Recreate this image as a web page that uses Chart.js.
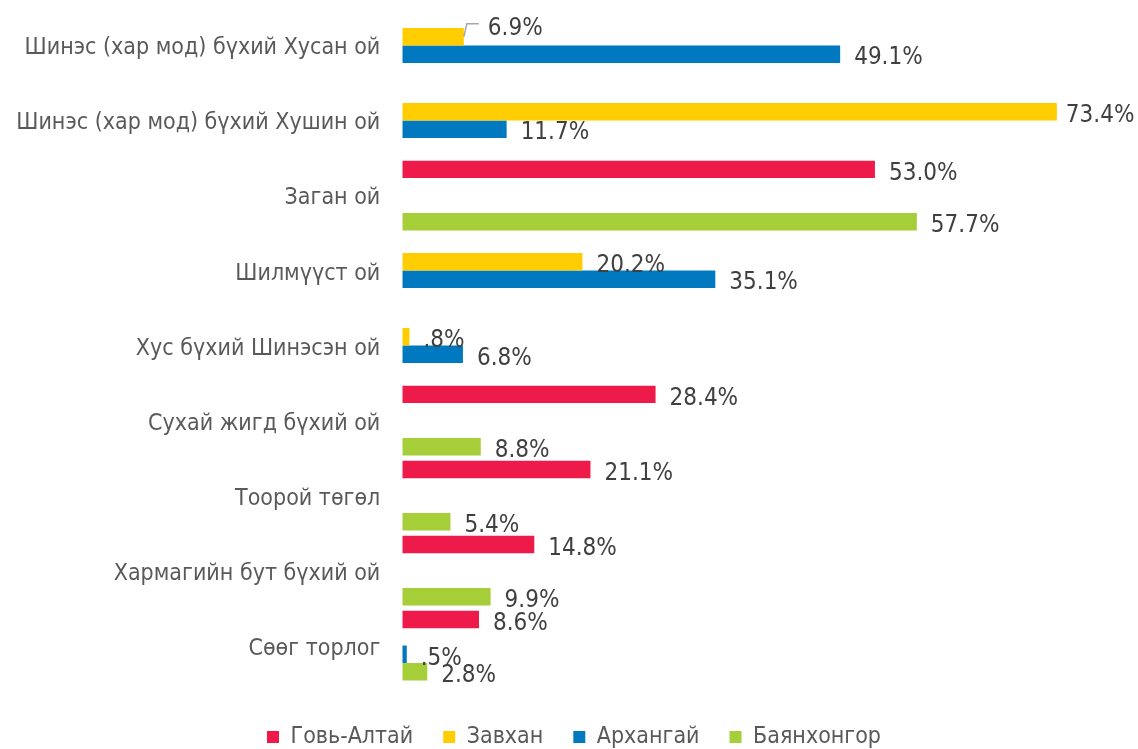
<!DOCTYPE html>
<html>
<head>
<meta charset="utf-8">
<script src="https://cdn.jsdelivr.net/npm/chart.js@4/dist/chart.umd.min.js"></script>
<style>
  html, body { margin: 0; padding: 0; background: #fff; }
  #wrap { width: 1138px; height: 749px; }
</style>
</head>
<body>
<div id="wrap"><canvas id="chart"></canvas></div>
<script>
const categories = [
  "Шинэс (хар мод) бүхий Хусан ой",
  "Шинэс (хар мод) бүхий Хушин ой",
  "Заган ой",
  "Шилмүүст ой",
  "Хус бүхий Шинэсэн ой",
  "Сухай жигд бүхий ой",
  "Тоорой төгөл",
  "Хармагийн бут бүхий ой",
  "Сөөг торлог"
];
const seriesNames = ["Говь-Алтай", "Завхан", "Архангай", "Баянхонгор"];
const govAltai   = [null, null, 53.0, null, null, 28.4, 21.1, 14.8, 8.6];
const zavkhan    = [6.9, 73.4, null, 20.2, 0.8, null, null, null, null];
const arkhangai  = [49.1, 11.7, null, 35.1, 6.8, null, null, null, 0.5];
const bayankhong = [null, null, 57.7, null, null, 8.8, 5.4, 9.9, 2.8];

const colors = ["#EE1A4A", "#FFCD00", "#0079C1", "#A6CE39"];
const FONT = '"DejaVu Sans Condensed", "Liberation Sans", sans-serif';

// Excel style: values under 1 show without leading zero (".8%")
const fmt = v => (v < 1 ? v.toFixed(1).slice(1) : v.toFixed(1)) + "%";

// labels that were moved by hand in the original
const labelShift = {
  "1-0": { dx: 24, dy: -12, leader: true },
  "1-1": { dx: 9 }
};

const valueLabels = {
  id: "valueLabels",
  afterDatasetsDraw(chart) {
    const ctx = chart.ctx;
    ctx.save();
    ctx.font = "24px " + FONT;
    ctx.textBaseline = "middle";
    ctx.textAlign = "left";
    chart.data.datasets.forEach((ds, di) => {
      chart.getDatasetMeta(di).data.forEach((bar, i) => {
        const v = ds.data[i];
        if (v == null) return;
        const s = labelShift[di + "-" + i] || {};
        if (s.leader) {
          ctx.strokeStyle = "#A6A6A6";
          ctx.lineWidth = 1.5;
          ctx.beginPath();
          ctx.moveTo(bar.x, bar.y);
          ctx.lineTo(bar.x + 3, bar.y - 13);
          ctx.lineTo(bar.x + 15, bar.y - 13);
          ctx.stroke();
        }
        ctx.fillStyle = "#404040";
        ctx.fillText(fmt(v), bar.x + (s.dx ?? 14), bar.y + 4 + (s.dy || 0));
      });
    });
    ctx.restore();
  }
};

const allSeries = [govAltai, zavkhan, arkhangai, bayankhong];

new Chart(document.getElementById("chart"), {
  type: "bar",
  data: {
    labels: categories,
    datasets: allSeries.map((d, i) => ({
      label: seriesNames[i],
      data: d,
      backgroundColor: colors[i],
      borderWidth: 0,
      categoryPercentage: 0.93,
      barPercentage: 1.0
    }))
  },
  options: {
    indexAxis: "y",
    responsive: true,
    maintainAspectRatio: false,
    animation: false,
    layout: { padding: { top: 8, left: 0, right: -10, bottom: -9.5 } },
    scales: {
      x: {
        min: 0,
        max: 82.5,
        grid: { display: false, drawTicks: false },
        border: { display: false },
        ticks: { display: false },
        afterFit: s => { s.height = 12.4; }
      },
      y: {
        grid: { display: false, drawTicks: false },
        border: { display: false },
        ticks: {
          padding: 22,
          labelOffset: 3,
          color: "#595959",
          font: { family: FONT, size: 23 }
        },
        afterFit: s => {
          s.width = 402.3;
          s.paddingTop = 0;
          s.paddingBottom = 0;
        }
      }
    },
    plugins: {
      legend: {
        position: "bottom",
        labels: {
          boxWidth: 12,
          boxHeight: 12,
          padding: 30,
          color: "#595959",
          font: { family: FONT, size: 23 }
        }
      },
      tooltip: { enabled: false }
    }
  },
  plugins: [valueLabels]
});
</script>
</body>
</html>
